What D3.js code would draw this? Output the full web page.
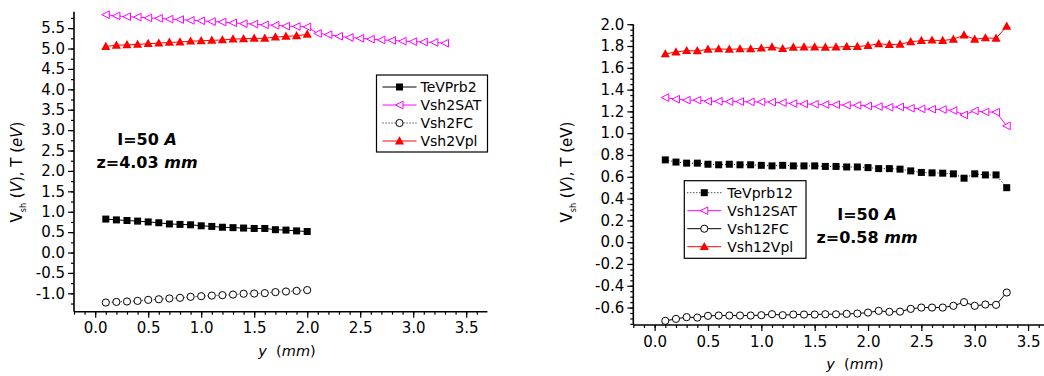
<!DOCTYPE html>
<html><head><meta charset="utf-8">
<script src="https://cdn.jsdelivr.net/npm/d3@7"></script>
<style>
body{margin:0;background:#fff;}
svg{display:block;}
text{font-family:"DejaVu Sans",sans-serif;}
</style></head>
<body>
<svg id="c" width="1044" height="376"></svg>
<script>
// ---------- data ----------
const yShort = [0.1,0.2,0.3,0.4,0.5,0.6,0.7,0.8,0.9,1.0,1.1,1.2,1.3,1.4,1.5,1.6,1.7,1.8,1.9,2.0];
const yLong = [0.1,0.2,0.3,0.4,0.5,0.6,0.7,0.8,0.9,1.0,1.1,1.2,1.3,1.4,1.5,1.6,1.7,1.8,1.9,2.0,2.1,2.2,2.3,2.4,2.5,2.6,2.7,2.8,2.9,3.0,3.1,3.2,3.3];

// left panel (z = 4.03 mm)
const teVPrb2 = [0.82,0.80,0.785,0.77,0.75,0.73,0.70,0.69,0.68,0.655,0.64,0.62,0.61,0.60,0.59,0.59,0.56,0.55,0.53,0.515];
const vsh2SAT = [5.83,5.80,5.78,5.77,5.75,5.74,5.72,5.71,5.69,5.68,5.66,5.65,5.63,5.61,5.60,5.58,5.57,5.55,5.54,5.53,5.37,5.34,5.30,5.27,5.25,5.23,5.21,5.20,5.18,5.17,5.16,5.15,5.13];
const vsh2FC = [-1.225,-1.21,-1.20,-1.185,-1.16,-1.145,-1.125,-1.11,-1.085,-1.07,-1.055,-1.045,-1.03,-1.01,-1.005,-0.995,-0.97,-0.955,-0.94,-0.92];
const vsh2Vpl = [5.05,5.08,5.09,5.10,5.12,5.13,5.15,5.16,5.18,5.19,5.20,5.21,5.23,5.24,5.25,5.25,5.28,5.30,5.31,5.35];

// right panel (z = 0.58 mm)
const teVprb12 = [0.755,0.735,0.725,0.725,0.715,0.71,0.715,0.71,0.71,0.705,0.70,0.705,0.70,0.70,0.70,0.695,0.695,0.69,0.69,0.684,0.675,0.675,0.67,0.654,0.64,0.636,0.633,0.627,0.587,0.627,0.617,0.617,0.50];
const vsh12SAT = [1.327,1.312,1.303,1.303,1.293,1.293,1.29,1.29,1.287,1.287,1.285,1.28,1.272,1.268,1.266,1.263,1.262,1.257,1.256,1.25,1.244,1.238,1.241,1.229,1.223,1.22,1.217,1.208,1.168,1.205,1.195,1.193,1.067];
const vsh12FC = [-0.722,-0.704,-0.688,-0.692,-0.676,-0.673,-0.673,-0.673,-0.673,-0.67,-0.661,-0.67,-0.664,-0.664,-0.664,-0.661,-0.662,-0.658,-0.655,-0.646,-0.63,-0.639,-0.637,-0.612,-0.60,-0.60,-0.60,-0.584,-0.55,-0.584,-0.572,-0.575,-0.462];
const vsh12Vpl = [1.727,1.745,1.757,1.755,1.77,1.773,1.77,1.773,1.773,1.78,1.79,1.775,1.787,1.79,1.79,1.787,1.79,1.795,1.795,1.804,1.82,1.813,1.816,1.838,1.85,1.853,1.85,1.862,1.90,1.862,1.874,1.87,1.98];

const xTickLabels = ["0.0","0.5","1.0","1.5","2.0","2.5","3.0","3.5"];
const yTickLabelsL = ["-1.0","-0.5","0.0","0.5","1.0","1.5","2.0","2.5","3.0","3.5","4.0","4.5","5.0","5.5"];
const yTickLabelsR = ["-0.6","-0.4","-0.2","0.0","0.2","0.4","0.6","0.8","1.0","1.2","1.4","1.6","1.8","2.0"];

const svg = d3.select("#c");

// marker drawers
function marker(g, type, color, x, y){
  if(type==="square"){
    g.append("rect").attr("x",x-3.5).attr("y",y-3.5).attr("width",7).attr("height",7).attr("fill",color);
  } else if(type==="circle"){
    g.append("circle").attr("cx",x).attr("cy",y).attr("r",3.6).attr("fill","#fff").attr("stroke",color).attr("stroke-width",1);
  } else if(type==="tri"){
    g.append("path").attr("d",`M${x},${y-4.8}L${x+4.6},${y+3.4}L${x-4.6},${y+3.4}Z`).attr("fill",color);
  } else if(type==="ltri"){
    g.append("path").attr("d",`M${x-4},${y}L${x+3.5},${y-3.8}L${x+3.5},${y+3.8}Z`).attr("fill","#fff").attr("stroke",color).attr("stroke-width",1);
  }
}

function panel(cfg){
  const g = svg.append("g");
  const x = d3.scaleLinear().domain(cfg.xDom).range(cfg.xRange);
  const y = d3.scaleLinear().domain(cfg.yDom).range(cfg.yRange);

  // series
  cfg.series.forEach(s=>{
    const pts = s.xs.map((xv,i)=>[x(xv), y(s.vals[i])]);
    g.append("path").attr("d", d3.line()(pts)).attr("fill","none")
      .attr("stroke", s.color).attr("stroke-width",1)
      .attr("stroke-dasharray", s.dash ? "1,2" : null);
    pts.forEach(p=>marker(g, s.marker, s.color, p[0], p[1]));
  });

  // x axis
  const xMajor = xTickLabels.map(t=>+t);
  const xMinor = d3.range(-2, 37).map(k=>k/10).filter(v=>v>=cfg.xDom[0]-1e-9 && v<=cfg.xDom[1]+1e-9);
  const xAxisMinor = d3.axisBottom(x).tickValues(xMinor).tickSize(3).tickFormat("");
  const xAxisMajor = d3.axisBottom(x).tickValues(xMajor).tickSize(6).tickPadding(5).tickFormat((d,i)=>xTickLabels[i]);
  const gx1 = g.append("g").attr("transform",`translate(0,${cfg.yRange[0]})`).call(xAxisMinor);
  const gx2 = g.append("g").attr("transform",`translate(0,${cfg.yRange[0]})`).call(xAxisMajor);
  [gx1,gx2].forEach(a=>{a.select(".domain").attr("stroke-width",1.6); a.selectAll(".tick line").attr("stroke-width",1.2);});
  gx1.select(".domain").remove();
  gx2.selectAll("text").attr("font-size",15).attr("fill","#000").attr("font-family","DejaVu Sans");
  gx2.select(".domain").attr("d",`M${cfg.xRange[0]},0H${cfg.xRange[1]}`);

  // y axis
  const yMajor = cfg.yLabels.map(t=>+t);
  const yMinor = d3.range(Math.ceil(cfg.yDom[0]/cfg.yMinorStep), Math.floor(cfg.yDom[1]/cfg.yMinorStep)+1).map(k=>k*cfg.yMinorStep);
  const yAxisMinor = d3.axisLeft(y).tickValues(yMinor).tickSize(3).tickFormat("");
  const yAxisMajor = d3.axisLeft(y).tickValues(yMajor).tickSize(6).tickPadding(3).tickFormat((d,i)=>cfg.yLabels[i]);
  const gy1 = g.append("g").attr("transform",`translate(${cfg.xRange[0]},0)`).call(yAxisMinor);
  const gy2 = g.append("g").attr("transform",`translate(${cfg.xRange[0]},0)`).call(yAxisMajor);
  gy1.select(".domain").remove();
  gy2.select(".domain").attr("stroke-width",1.6).attr("d",`M0,${cfg.yRange[0]}V${cfg.yRange[1]}`);
  [gy1,gy2].forEach(a=>a.selectAll(".tick line").attr("stroke-width",1.2));
  gy2.selectAll("text").attr("font-size",15).attr("fill","#000").attr("font-family","DejaVu Sans");

  // axis titles
  const xt = g.append("text").attr("x",cfg.xTitle[0]).attr("y",cfg.xTitle[1]).attr("text-anchor","middle").attr("font-size",14.5);
  xt.append("tspan").attr("font-style","italic").text("y");
  xt.append("tspan").text("\u00a0 (");
  xt.append("tspan").attr("font-style","italic").text("mm");
  xt.append("tspan").text(")");

  const yt = g.append("text").attr("transform",`translate(${cfg.yTitle[0]},${cfg.yTitle[1]}) rotate(-90)`)
    .attr("text-anchor","middle").attr("font-size",15);
  yt.append("tspan").text("V");
  yt.append("tspan").attr("font-size",8).attr("dy",4).text("sh");
  yt.append("tspan").attr("dy",-4).text(" (");
  yt.append("tspan").attr("font-style","italic").text("V");
  yt.append("tspan").text("), T (");
  yt.append("tspan").attr("font-style", cfg.eVItalic ? "italic":"normal").text("eV");
  yt.append("tspan").text(")");

  // annotation
  const a1 = g.append("text").attr("x",cfg.note[0]).attr("y",cfg.note[1]).attr("text-anchor","middle")
    .attr("font-family","Liberation Sans").attr("font-weight","bold").attr("font-size",16);
  a1.append("tspan").text("I=50 ");
  a1.append("tspan").attr("font-style","italic").text("A");
  const a2 = g.append("text").attr("x",cfg.note[2]).attr("y",cfg.note[3]).attr("text-anchor","middle")
    .attr("font-family","Liberation Sans").attr("font-weight","bold").attr("font-size",16);
  a2.append("tspan").text(cfg.zText + " ");
  a2.append("tspan").attr("font-style","italic").text("mm");

  // legend
  const L = cfg.legend;
  g.append("rect").attr("x",L.x).attr("y",L.y).attr("width",L.w).attr("height",L.h)
    .attr("fill","#fff").attr("stroke","#000").attr("stroke-width",1.2);
  cfg.series.forEach((s,i)=>{
    const cy = L.y + L.first + i*L.step;
    g.append("line").attr("x1",L.x+L.l0).attr("x2",L.x+L.l1).attr("y1",cy).attr("y2",cy)
      .attr("stroke",s.color).attr("stroke-width",1).attr("stroke-dasharray", s.dash ? "1,2" : null);
    marker(g, s.marker, s.color, L.x+(L.l0+L.l1)/2, cy);
    g.append("text").attr("x",L.x+L.tx).attr("y",cy+5).attr("font-size",14).attr("fill","#000").text(s.name);
  });
}

panel({
  xDom:[-0.2,3.7], xRange:[74,487.4],
  yDom:[-1.45,5.9], yRange:[311.7,11.8],
  yLabels:yTickLabelsL, yMinorStep:0.25,
  xTitle:[287,356], yTitle:[22,172], eVItalic:true,
  note:[147,145,147,168], zText:"z=4.03",
  legend:{x:376.5,y:75,w:111,h:77,first:12,step:18,l0:6,l1:40,tx:44},
  series:[
    {name:"TeVPrb2", xs:yShort, vals:teVPrb2, color:"#000", marker:"square", dash:false},
    {name:"Vsh2SAT", xs:yLong, vals:vsh2SAT, color:"#ff00ff", marker:"ltri", dash:false},
    {name:"Vsh2FC", xs:yShort, vals:vsh2FC, color:"#000", marker:"circle", dash:true},
    {name:"Vsh2Vpl", xs:yShort, vals:vsh2Vpl, color:"#ff0000", marker:"tri", dash:false}
  ]
});

panel({
  xDom:[-0.2,3.7], xRange:[633.3,1049.4],
  yDom:[-0.76,2.0], yRange:[325,24.2],
  yLabels:yTickLabelsR, yMinorStep:0.05,
  xTitle:[855,369], yTitle:[572,172], eVItalic:false,
  note:[867,220,867,243], zText:"z=0.58",
  legend:{x:684.3,y:180.7,w:121.7,h:77.6,first:12,step:18,l0:3,l1:37,tx:43},
  series:[
    {name:"TeVprb12", xs:yLong, vals:teVprb12, color:"#000", marker:"square", dash:true},
    {name:"Vsh12SAT", xs:yLong, vals:vsh12SAT, color:"#ff00ff", marker:"ltri", dash:false},
    {name:"Vsh12FC", xs:yLong, vals:vsh12FC, color:"#000", marker:"circle", dash:false},
    {name:"Vsh12Vpl", xs:yLong, vals:vsh12Vpl, color:"#ff0000", marker:"tri", dash:false}
  ]
});
</script>
</body></html>
